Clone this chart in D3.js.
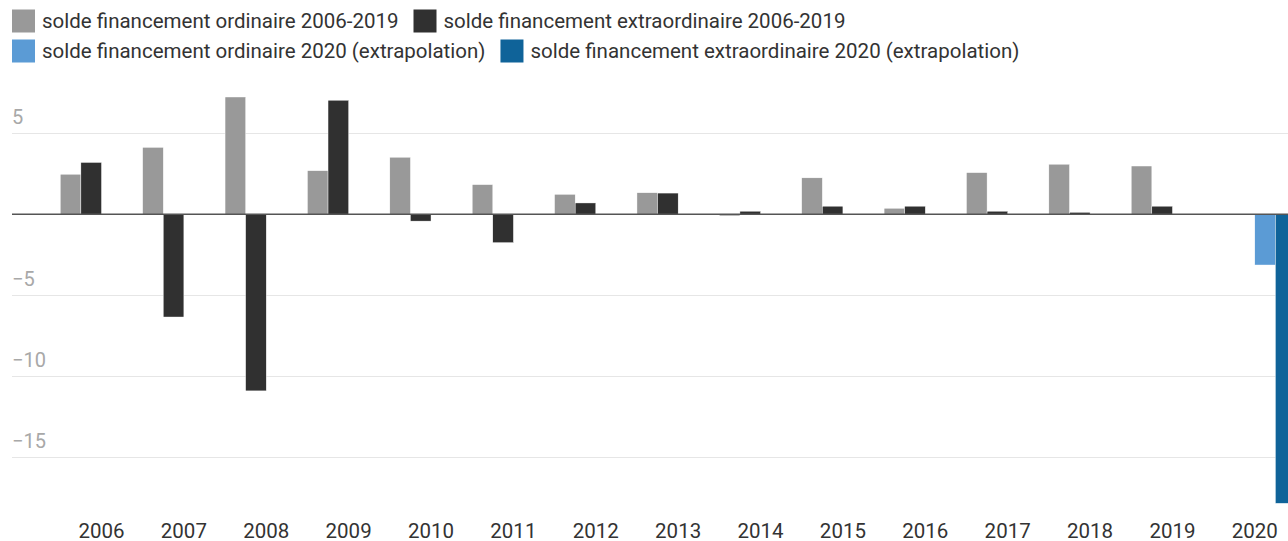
<!DOCTYPE html>
<html>
<head>
<meta charset="utf-8">
<script src="https://cdn.jsdelivr.net/npm/d3@7"></script>
<style>
    body { margin: 0; background: #fff; }
    svg { display: block; overflow: hidden; font-family: Roboto, sans-serif; }
</style>
</head>
<body>
<div id="chart"></div>
<script>
// data
var years = ["2006", "2007", "2008", "2009", "2010", "2011", "2012", "2013", "2014", "2015", "2016", "2017", "2018", "2019", "2020"];
var ordinaire = [2.47, 4.13, 7.24, 2.69, 3.52, 1.83, 1.23, 1.33, -0.1, 2.25, 0.37, 2.57, 3.09, 2.98, null];
var extraordinaire = [3.2, -6.34, -10.9, 7.04, -0.42, -1.75, 0.7, 1.31, 0.19, 0.5, 0.5, 0.19, 0.12, 0.5, null];
var ordinaire2020 = [null, null, null, null, null, null, null, null, null, null, null, null, null, null, -3.13];
var extraordinaire2020 = [null, null, null, null, null, null, null, null, null, null, null, null, null, null, -17.84];
var seriesNames = [
    "solde financement ordinaire 2006-2019",
    "solde financement extraordinaire 2006-2019",
    "solde financement ordinaire 2020 (extrapolation)",
    "solde financement extraordinaire 2020 (extrapolation)"
];
var yTicks = [5, -5, -10, -15];

var seriesValues = [ordinaire, extraordinaire, ordinaire2020, extraordinaire2020];
var colors = ["#999999", "#303030", "#5b9bd5", "#0f6399"];

var width = 1288, height = 541;

var svg = d3.select("#chart").append("svg")
    .attr("width", width).attr("height", height);

var x = d3.scaleBand().domain(years).range([60.3, 1296]).paddingInner(0).paddingOuter(0);
var xSub = d3.scaleBand().domain(d3.range(4)).range([0, x.bandwidth()]);
var y = d3.scaleLinear().domain([-18, 7.5]).range([505.9, 92.8]);

//Gridlines and tick labels
var grid = svg.append("g");
grid.selectAll("line").data(yTicks).enter().append("line")
    .attr("x1", 12).attr("x2", width)
    .attr("y1", function (d) { return Math.round(y(d)) + 0.5; })
    .attr("y2", function (d) { return Math.round(y(d)) + 0.5; })
    .attr("stroke", "#e6e6e6").attr("stroke-width", 1.2);

grid.selectAll("text").data(yTicks).enter().append("text")
    .attr("x", 12)
    .attr("y", function (d) { return y(d) - 9.5; })
    .attr("fill", "#a8a8a8")
    .attr("font-size", 20)
    .text(function (d) { return d < 0 ? "\u2212" + Math.abs(d) : d; });

//Bars
var table = [];
years.forEach(function (yr, i) {
    seriesValues.forEach(function (s, j) {
        if (s[i] !== null) table.push({ year: yr, series: j, value: s[i] });
    });
});

svg.append("g").selectAll("rect").data(table).enter().append("rect")
    .attr("x", function (d) { return x(d.year) + xSub(d.series); })
    .attr("width", xSub.bandwidth())
    .attr("y", function (d) { return Math.min(y(d.value), y(0)); })
    .attr("height", function (d) { return Math.abs(y(d.value) - y(0)); })
    .attr("fill", function (d) { return colors[d.series]; })
    .attr("stroke", "#fff").attr("stroke-width", 0.4);

//Zero line
svg.append("line")
    .attr("x1", 12).attr("x2", width)
    .attr("y1", y(0)).attr("y2", y(0))
    .attr("stroke", "#555").attr("stroke-width", 1.5);

//X labels
svg.append("g").selectAll("text").data(years).enter().append("text")
    .attr("x", function (d) { return x(d) + x.bandwidth() / 2; })
    .attr("y", 538)
    .attr("text-anchor", "middle")
    .attr("fill", "#333")
    .attr("font-size", 20.5)
    .text(function (d) { return d; });

//Legend, two rows of two items
var legendRows = [[0, 1], [2, 3]];
legendRows.forEach(function (row, r) {
    var cx = 12;
    var cy = 21 + r * 30;
    row.forEach(function (k) {
        var item = svg.append("g");
        item.append("rect")
            .attr("x", cx).attr("y", cy - 11.5)
            .attr("width", 23).attr("height", 23)
            .attr("fill", colors[k]);
        var t = item.append("text")
            .attr("x", cx + 30).attr("y", cy + 7)
            .attr("fill", "#333")
            .attr("font-size", 20.5)
            .text(seriesNames[k]);
        cx += 30 + t.node().getComputedTextLength() + 15;
    });
});
</script>
</body>
</html>
